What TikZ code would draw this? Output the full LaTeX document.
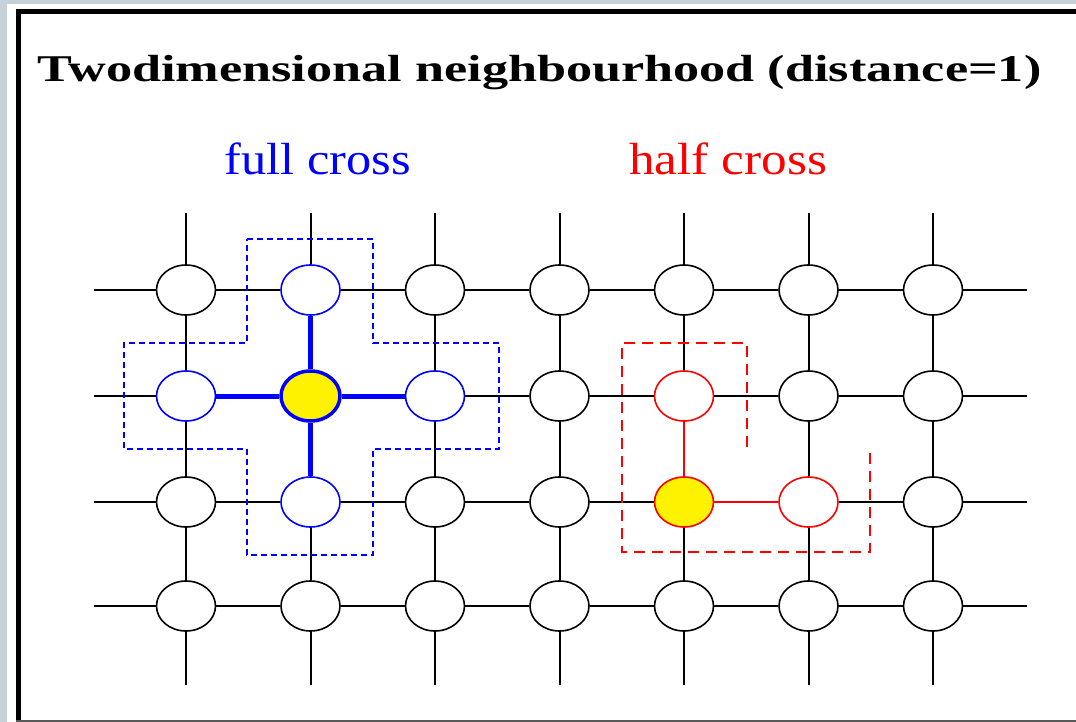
\documentclass[tikz,border=0pt]{standalone}
\usepackage{fontspec}
\setmainfont{Liberation Serif}
\usepackage{graphicx}
\usetikzlibrary{shapes.geometric}
\definecolor{slate}{RGB}{198,209,216}

\begin{document}
\begin{tikzpicture}[
      x=1pt, y=-1pt, % pixel grid, y runs downwards
      font=\fontsize{45}{50}\selectfont,
      cell/.style={ellipse, draw=black, line width=1.6pt, fill=white,
        minimum width=59pt, minimum height=50pt, inner sep=0pt},
      wire/.style={line width=2pt, black},
      fullnb/.style={draw=blue},
      fullmid/.style={draw=blue, line width=3.5pt, fill=yellow},
      halfnb/.style={draw=red},
      halfmid/.style={draw=red, fill=yellow},
      fullwire/.style={blue, line width=5pt},
      halfwire/.style={red, line width=2pt},
      fullbox/.style={blue, line width=2pt, dash pattern=on 6pt off 4pt},
      halfbox/.style={red, line width=2pt, dash pattern=on 11pt off 7pt},
      % cells k<col><row>, links h<col><row> (to the right), v<col><row> (downwards)
      k21/.style={fullnb}, k12/.style={fullnb}, k32/.style={fullnb},
      k23/.style={fullnb}, k22/.style={fullmid},
      k52/.style={halfnb}, k63/.style={halfnb}, k53/.style={halfmid},
      h12/.style={fullwire}, h22/.style={fullwire},
      v21/.style={fullwire}, v22/.style={fullwire},
      v52/.style={halfwire}, h53/.style={halfwire},
    ]
    \useasboundingbox (0,0) rectangle (1076,722);

    % ---- sheet and frame ------------------------------------------------
    \fill[slate] (0,0) rectangle (1076,722);
    \fill[white] (7,4) rectangle (1076,722);
    \draw[line width=5.5pt] (18.5,730) -- (18.5,11.5) -- (1090,11.5);
    \draw[line width=2pt, black!65] (16,720.8) -- (1090,720.8);

    % ---- texts ----------------------------------------------------------
    \node[anchor=base, inner sep=0pt, font=\fontsize{37.8}{40}\selectfont\bfseries]
      (title) at (539.5,82) {\scalebox{1.382}[1]{Twodimensional neighbourhood (distance=1)}};
    \node[anchor=base, inner sep=0pt, text=blue] (fulllabel) at (318,175)
      {\scalebox{1.12}[1]{full cross}};
    \node[anchor=base, inner sep=0pt, text=red] (halflabel) at (728,175)
      {\scalebox{1.14}[1]{half cross}};

    % ---- cells ----------------------------------------------------------
    \foreach \c/\x in {1/186,2/310.5,3/435,4/559.5,5/684,6/808.5,7/933}{%
      \coordinate (t\c) at (\x,213);
      \coordinate (b\c) at (\x,685);
      \foreach \r/\y in {1/290,2/396,3/502,4/606}
        \node[cell, k\c\r/.try] (n\c\r) at (\x,\y) {};
    }

    % ---- rows -----------------------------------------------------------
    \foreach \r/\y in {1/290,2/396,3/502,4/606}{%
      \coordinate (w\r) at (94,\y);
      \coordinate (e\r) at (1027,\y);
      \draw[wire] (w\r) -- (n1\r);
      \draw[wire] (n7\r) -- (e\r);
      \foreach \a/\b in {1/2,2/3,3/4,4/5,5/6,6/7}
        \draw[wire, h\a\r/.try] (n\a\r) -- (n\b\r);
    }

    % ---- columns --------------------------------------------------------
    \foreach \c in {1,...,7}{%
      \draw[wire] (t\c) -- (n\c1);
      \draw[wire] (n\c4) -- (b\c);
      \foreach \a/\b in {1/2,2/3,3/4}
        \draw[wire, v\c\a/.try] (n\c\a) -- (n\c\b);
    }

    % ---- neighbourhood outlines -----------------------------------------
    \draw[fullbox] (247,239) -- (373,239) -- (373,343) -- (499,343) -- (499,449)
      -- (373,449) -- (373,555) -- (247,555) -- (247,449) -- (124,449)
      -- (124,343) -- (247,343) -- cycle;
    \draw[halfbox] (747,447) -- (747,343) -- (622,343) -- (622,552)
      -- (870,552) -- (870,448);
  \end{tikzpicture}
\end{document}
